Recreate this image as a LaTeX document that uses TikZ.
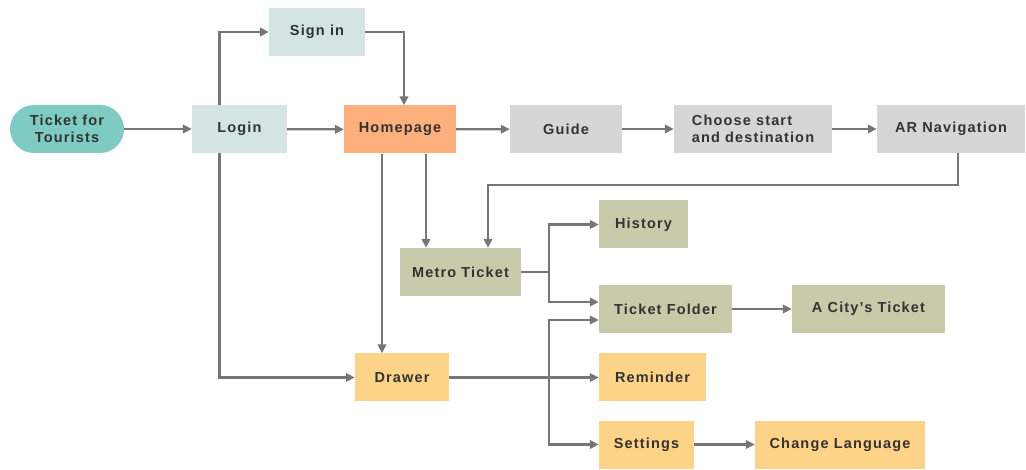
\documentclass[tikz,border=0pt]{standalone}
\usepackage{fontspec}
\setmainfont[LetterSpace=8]{Liberation Sans}
\usetikzlibrary{arrows.meta}
\definecolor{tourcol}{HTML}{7ECBC3}
\definecolor{logcol}{HTML}{D3E4E3}
\definecolor{homecol}{HTML}{FDB07B}
\definecolor{guidecol}{HTML}{D6D6D6}
\definecolor{metrocol}{HTML}{C8CBA9}
\definecolor{drawcol}{HTML}{FDD387}
\definecolor{linecol}{HTML}{767676}
\definecolor{textcol}{HTML}{333333}
\tikzstyle{box}=[minimum height=48pt, inner sep=0pt, text centered, text=textcol, font=\bfseries\fontsize{14.5}{16.5}\selectfont]
\tikzstyle{link}=[draw=linecol, line width=2.3pt, -{Triangle[length=9pt,width=8.5pt]}]
\begin{document}
\begin{tikzpicture}[x=1pt, y=-1pt]
\useasboundingbox (0,0) rectangle (1026,470);
\node[box, fill=tourcol, rounded corners=24pt, minimum width=114pt, align=center] (tour) at (67,129) {Ticket for\\Tourists};
\node[box, fill=logcol, minimum width=95pt] (login) at (239.5,129) {Login};
\node[box, fill=logcol, minimum width=96pt] (signin) at (317,32) {Sign in};
\node[box, fill=homecol, minimum width=112pt] (home) at (400,129.5) {Homepage};
\node[box, fill=guidecol, minimum width=112pt] (guide) at (566,129) {Guide};
\node[box, fill=guidecol, minimum width=158pt, align=left] (choose) at (753,129) {Choose start\\and destination};
\node[box, fill=guidecol, minimum width=148pt] (ar) at (951,129) {AR Navigation};
\node[box, fill=metrocol, minimum width=121pt] (metro) at (460.5,272) {Metro Ticket};
\node[box, fill=metrocol, minimum width=89pt] (history) at (643.5,224.5) {History};
\node[box, fill=metrocol, minimum width=133pt] (folder) at (665.5,309) {Ticket Folder};
\node[box, fill=metrocol, minimum width=153pt] (city) at (868.5,309) {A City's Ticket};
\node[box, fill=drawcol, minimum width=94pt] (drawer) at (402,377.5) {Drawer};
\node[box, fill=drawcol, minimum width=107pt] (reminder) at (652.5,377.5) {Reminder};
\node[box, fill=drawcol, minimum width=95pt] (settings) at (646.5,444.5) {Settings};
\node[box, fill=drawcol, minimum width=170pt] (lang) at (840,444.5) {Change Language};
\coordinate (split) at (549,377.5);

\draw[link] (tour) -- (login);
\draw[link] ([xshift=-20pt]login.north) |- (signin);
\draw[link] (signin) -| ([xshift=4pt]home.north);
\draw[link] (login) -- (home);
\draw[link] (home) -- (guide);
\draw[link] (guide) -- (choose);
\draw[link] (choose) -- (ar);
\draw[link] ([xshift=7pt]ar.south) -- ++(0,32) -| ([xshift=27.5pt]metro.north);
\draw[link] ([xshift=26pt]home.south) -- ([xshift=26pt]home.south |- metro.north);
\draw[link] ([xshift=-18pt]home.south) -- ([xshift=-18pt]home.south |- drawer.north);
\draw[link] ([xshift=-20pt]login.south) |- (drawer);
\draw[link] (metro.east) -- ++(28,0) |- (history);
\draw[link] (metro.east) -- ++(28,0) |- ([yshift=7pt]folder.west);
\draw[link] (folder) -- (city);
\draw[link] (drawer) -- (reminder);
\draw[link] (split) |- ([yshift=-11pt]folder.west);
\draw[link] (split) |- (settings);
\draw[link] (settings) -- (lang);
\end{tikzpicture}
\end{document}
